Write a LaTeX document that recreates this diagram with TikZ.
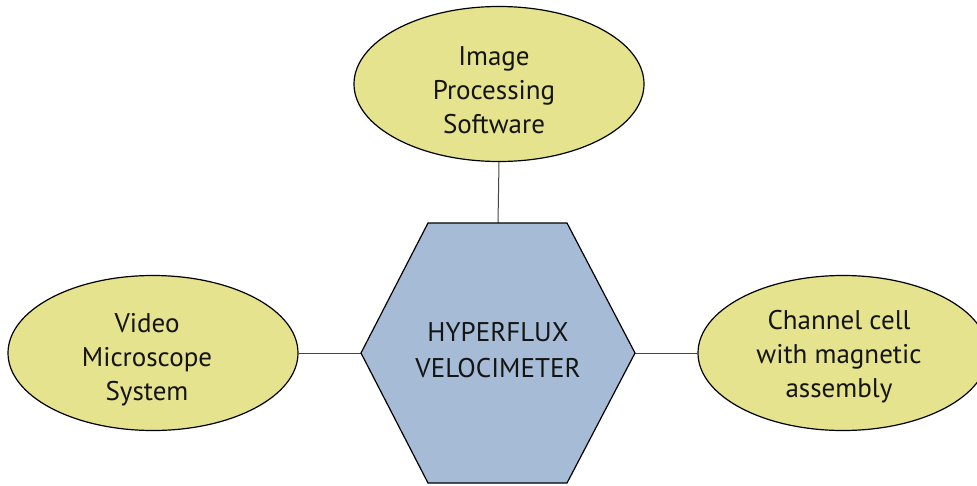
\documentclass[tikz,border=0pt]{standalone}
\usepackage{fontspec}
\setmainfont{PT Sans}
\usetikzlibrary{shapes.geometric}
\definecolor{leaf}{RGB}{229,227,142}
\definecolor{core}{RGB}{166,187,214}
\definecolor{wire}{RGB}{70,70,70}
\definecolor{ink}{RGB}{20,20,20}
\tikzset{
  leafbox/.style={ellipse, draw=black, line width=1.2pt, fill=leaf,
    inner sep=0pt, minimum width=290pt, minimum height=155pt},
  leaftext/.style={align=center, inner sep=0pt, text=ink,
    font=\fontsize{27}{34}\selectfont},
  coretext/.style={align=center, inner sep=0pt, text=ink,
    font=\fontsize{27}{36}\selectfont},
  wireline/.style={draw=wire, line width=1pt}
}
\begin{document}
\begin{tikzpicture}[x=1pt,y=-1pt]
  \useasboundingbox (0,0) rectangle (977,485);
  \clip (0,0) rectangle (977,485);
  \fill[white] (0,0) rectangle (977,485);

  % hexagon corners
  \coordinate (hexN) at (498,223);
  \coordinate (hexW) at (361,353);
  \coordinate (hexE) at (635,353);
  \coordinate (hNW) at (428,223);
  \coordinate (hNE) at (567,223);
  \coordinate (hSE) at (567,483);
  \coordinate (hSW) at (428,483);

  % outer components
  \node[leafbox] (top)   at (499,84)  {};
  \node[leafbox] (left)  at (153,353) {};
  \node[leafbox] (right) at (843,353) {};

  % links to the central unit
  \draw[wireline] (top.south) -- (hexN);
  \draw[wireline] (left.east) -- (hexW);
  \draw[wireline] (hexE) -- (right.west);

  % central unit
  \draw[fill=core, line width=1.2pt, line join=miter]
    (hNW) -- (hNE) -- (hexE) -- (hSE) -- (hSW) -- (hexW) -- cycle;

  % labels
  \node[coretext] (hex) at (498,350) {HYPERFLUX\\VELOCIMETER};
  \node[leaftext] (topT) at (494,90) {Image\\Processing\\Software};
  \node[leaftext] (leftT) at (147,360) {Video\\Microscope\\System};
  \node[leaftext] (rightT) at (839,357) {Channel cell\\with magnetic\\assembly};
\end{tikzpicture}
\end{document}
